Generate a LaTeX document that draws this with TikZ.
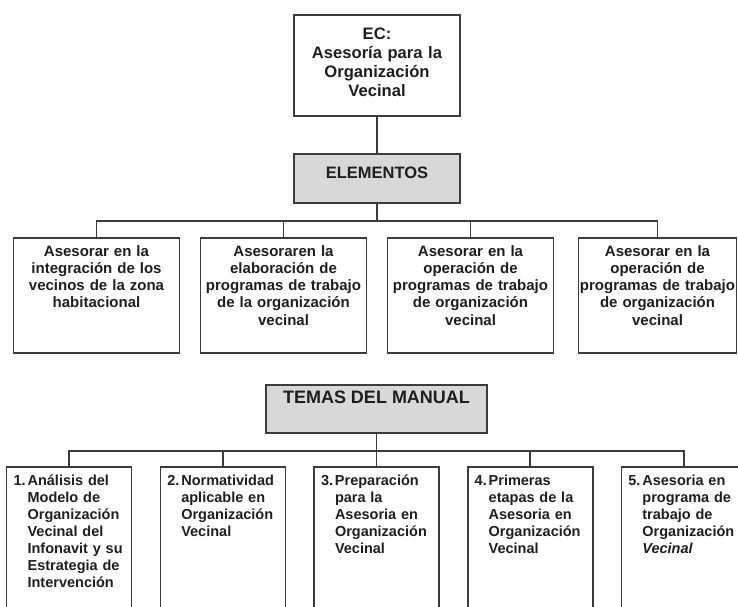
\documentclass[tikz,border=0pt]{standalone}
\usepackage{fontspec}
\setmainfont{Liberation Sans}
\definecolor{linegray}{HTML}{3C3C3C}
\definecolor{boxgray}{HTML}{D8D8D8}
\definecolor{txtgray}{HTML}{1E1E1E}
% numbered topic with hanging indent
\newcommand{\tematext}[2]{\leftskip=14pt\llap{\makebox[14pt][l]{#1}}#2\par}

\begin{document}
\begin{tikzpicture}[x=1pt,y=-1pt,
  box/.style={draw=linegray, line width=1.6pt, text=txtgray, inner xsep=0pt,
    inner ysep=0pt, align=center, anchor=center},
  ecbox/.style={box, text width=166pt, text height=24pt, text depth=77pt,
    font=\bfseries\fontsize{16.6}{19}\selectfont},
  headbox/.style={box, fill=boxgray},
  elembox/.style={box, text width=166pt, text height=18pt, text depth=97pt,
    font=\bfseries\fontsize{15}{17.3}\selectfont},
  temabox/.style={box, align=left, inner xsep=7pt, text width=111pt,
    text height=18pt, text depth=160pt,
    font=\bfseries\fontsize{14.5}{17}\selectfont},
  edge from parent/.style={draw=linegray, line width=1.6pt},
  elbow/.style={edge from parent path={(\tikzparentnode.south) -- ++(0pt,-17pt)
    -| (\tikzchildnode.north)}}
]
\useasboundingbox (0,0) rectangle (738,606);
\clip (0,0) rectangle (738,606);

%Top tree: the EC box, then ELEMENTOS, then
% the four elements in one row
\begin{scope}[level 1/.style={level distance=113pt},
  level 2/.style={level distance=117pt, sibling distance=187pt, elbow}]
\node[ecbox] (ec) at (377,65.5) {EC:\\ Asesoría para la\\ Organización\\ Vecinal}
    child{
         node[headbox, minimum width=166pt, text height=24pt, text depth=25pt,
           font=\bfseries\fontsize{16.5}{19}\selectfont] (elem) {ELEMENTOS}
           child{
               node[elembox] (e1){Asesorar en la\\ integración de los\\
                 vecinos de la zona\\ habitacional}
               }
           child{
               node[elembox] (e2){Asesoraren la\\ elaboración de\\
                 programas de trabajo\\ de la organización\\ vecinal}
               }
           child{
               node[elembox] (e3){Asesorar en la\\ operación de\\
                 programas de trabajo\\ de organización\\ vecinal}
               }
           child{
               node[elembox, text width=158pt] (e4){Asesorar en la\\ operación de\\
                 programas de trabajo\\ de organización\\ vecinal}
               }
         };
\end{scope}

%Bottom tree: TEMAS DEL MANUAL with its five topics
\begin{scope}[level 1/.style={level distance=147pt, sibling distance=153.7pt, elbow}]
\node[headbox, minimum width=221pt, text height=18.5pt, text depth=29.5pt,
  font=\bfseries\fontsize{18}{21}\selectfont] (temas) at (376.5,409) {TEMAS DEL MANUAL}
    child{
         node[temabox] (t1){\tematext{1.}{Análisis del\\ Modelo de\\ Organización\\
           Vecinal del\\ Infonavit y su\\ Estrategia de\\ Intervención}}
         }
    child{
         node[temabox] (t2){\tematext{2.}{Normatividad\\ aplicable en\\
           Organización\\ Vecinal}}
         }
    child{
         node[temabox] (t3){\tematext{3.}{Preparación\\ para la\\ Asesoria en\\
           Organización\\ Vecinal}}
         }
    child{
         node[temabox] (t4){\tematext{4.}{Primeras\\ etapas de la\\ Asesoria en\\
           Organización\\ Vecinal}}
         }
    child{
         node[temabox] (t5){\tematext{5.}{Asesoria en\\ programa de\\ trabajo de\\
           Organización\\ \textit{Vecinal}}}
         };
\end{scope}
\end{tikzpicture}
\end{document}
